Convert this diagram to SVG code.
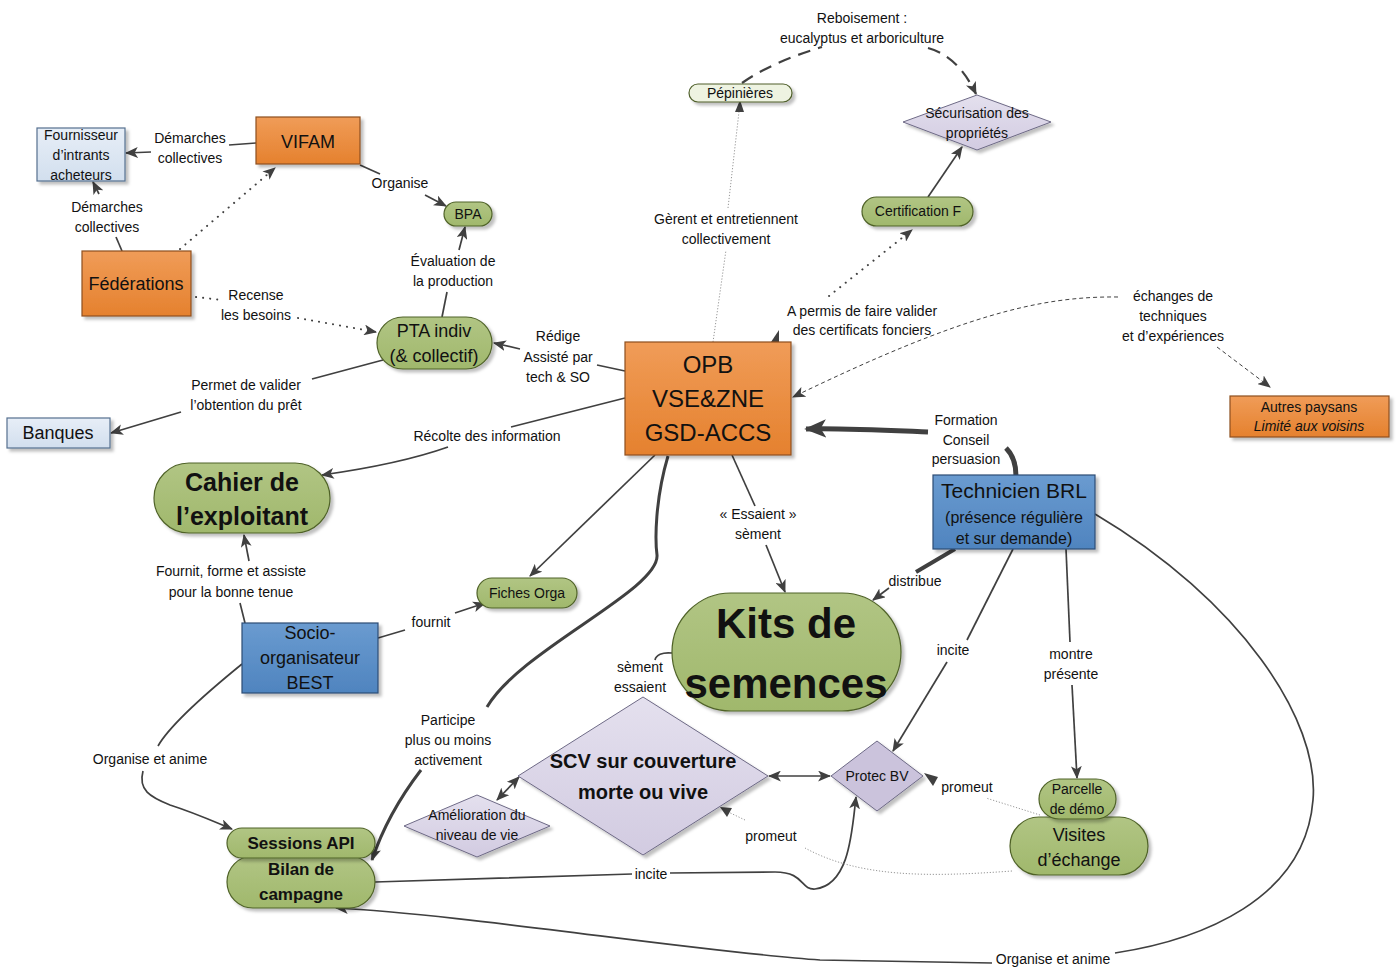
<svg xmlns="http://www.w3.org/2000/svg" width="1399" height="967" viewBox="0 0 1399 967">
<style>
text{font-family:"Liberation Sans",Arial,sans-serif;fill:#111;text-anchor:middle}
.l{font-size:14px}
.n{font-size:14px}
.b{font-weight:bold}
.org{fill:url(#gOrg);stroke:#8e4f20;stroke-width:1.2}
.grn{fill:url(#gGrn);stroke:#4f6228;stroke-width:1.2}
.lb{fill:url(#gLb);stroke:#55708f;stroke-width:1.2}
.blu{fill:url(#gBlu);stroke:#2c4d75;stroke-width:1.2}
.lav{fill:url(#gLav);stroke:#6e6a86;stroke-width:1}
.pep{fill:#eef3e1;stroke:#4f5f2a;stroke-width:1.2}
.sh{filter:url(#sh)}
.c{fill:none;stroke:#404040;stroke-width:1.7}
.dot{fill:none;stroke:#404040;stroke-width:2;stroke-dasharray:0.1 7;stroke-linecap:round}
.thin{fill:none;stroke:#8a8a8a;stroke-width:0.9;stroke-dasharray:1.2 1.8}
.dsh{fill:none;stroke:#404040;stroke-width:1;stroke-dasharray:4 3}
</style>
<defs>
<linearGradient id="gOrg" x1="0" y1="0" x2="0" y2="1"><stop offset="0" stop-color="#f09c58"/><stop offset="1" stop-color="#e5812e"/></linearGradient>
<linearGradient id="gGrn" x1="0" y1="0" x2="0" y2="1"><stop offset="0" stop-color="#b1c584"/><stop offset="1" stop-color="#a0b86c"/></linearGradient>
<linearGradient id="gLb" x1="0" y1="0" x2="0" y2="1"><stop offset="0" stop-color="#e7eef7"/><stop offset="1" stop-color="#d2dfee"/></linearGradient>
<linearGradient id="gBlu" x1="0" y1="0" x2="0" y2="1"><stop offset="0" stop-color="#6a9bd0"/><stop offset="1" stop-color="#4f84bf"/></linearGradient>
<linearGradient id="gLav" x1="0" y1="0" x2="0" y2="1"><stop offset="0" stop-color="#e4e0ee"/><stop offset="1" stop-color="#d2cbe1"/></linearGradient>
<filter id="sh" x="-10%" y="-10%" width="130%" height="140%"><feDropShadow dx="3" dy="3" stdDeviation="1.5" flood-color="#000" flood-opacity="0.25"/></filter>
<marker id="a" viewBox="0 0 12 10" refX="11" refY="5" markerWidth="13" markerHeight="11" markerUnits="userSpaceOnUse" orient="auto-start-reverse"><path d="M0,0 L12,5 L0,10 L3,5 z" fill="#404040"/></marker>
<marker id="A" viewBox="0 0 12 10" refX="11" refY="5" markerWidth="22" markerHeight="20" markerUnits="userSpaceOnUse" orient="auto"><path d="M0,0 L12,5 L0,10 L3,5 z" fill="#404040"/></marker>
</defs>

<g id="connectors">
<path class="c" d="M256 143 L229 145"/>
<path class="c" d="M151 152 L126 153" marker-end="url(#a)"/>
<path class="c" d="M122 251 L116 237"/>
<path class="c" d="M99 194 L93 182" marker-end="url(#a)"/>
<path class="dot" d="M180 249 L275 168" marker-end="url(#a)"/>
<path class="dot" d="M196 297 L222 300"/>
<path class="dot" d="M298 318 L376 332" marker-end="url(#a)"/>
<path class="c" d="M360 165 L380 174"/>
<path class="c" d="M425 195 L446 206" marker-end="url(#a)"/>
<path class="c" d="M442 317 L447 292"/>
<path class="c" d="M459 250 L465 227" marker-end="url(#a)"/>
<path class="c" d="M383 360 L312 379"/>
<path class="c" d="M181 412 L111 433" marker-end="url(#a)"/>
<path class="c" d="M625 371 L597 365"/>
<path class="c" d="M520 349 L494 343" marker-end="url(#a)"/>
<path class="c" d="M625 398 L511 427"/>
<path class="c" d="M448 447 Q400 464 322 475" marker-end="url(#a)"/>
<path class="thin" d="M713 342 L726 250"/>
<path class="thin" d="M728 208 L740 103"/>
<path d="M735 112 L740 100 L744 112 z" fill="#404040"/>
<path d="M771 342 L779 342 L779 330 z" fill="#404040"/>
<path class="dot" d="M829 296 L912 230" marker-end="url(#a)"/>
<path fill="none" stroke="#404040" stroke-width="2.2" stroke-dasharray="13 8" d="M742 83 Q772 62 822 47"/>
<path fill="none" stroke="#404040" stroke-width="2.2" stroke-dasharray="13 8" d="M928 48 Q958 56 976 94" marker-end="url(#a)"/>
<path class="c" d="M928 197 L962 147" marker-end="url(#a)"/>
<path class="dsh" d="M1118 297 C1040 296 960 316 793 397" marker-end="url(#a)"/>
<path class="dsh" d="M1217 347 L1270 387" marker-end="url(#a)"/>
<path fill="none" stroke="#404040" stroke-width="5" d="M1016 476 C1016 463 1013 455 1006 448"/>
<path fill="none" stroke="#404040" stroke-width="5" d="M928 432 C880 430 840 428 806 429" marker-end="url(#A)"/>
<path class="c" d="M655 455 L530 576" marker-end="url(#a)"/>
<path fill="none" stroke="#404040" stroke-width="3" d="M668 456 C655 500 655 540 657 555 C660 590 520 650 487 707"/>
<path fill="none" stroke="#404040" stroke-width="3" d="M421 770 C398 800 382 830 372 860" marker-end="url(#a)"/>
<path class="c" d="M732 455 L755 506"/>
<path class="c" d="M766 545 L785 592" marker-end="url(#a)"/>
<path fill="none" stroke="#404040" stroke-width="4" d="M955 549 L916 572"/>
<path class="c" d="M889 588 L873 600" marker-end="url(#a)"/>
<path class="c" d="M1013 549 L967 640"/>
<path class="c" d="M947 662 L893 751" marker-end="url(#a)"/>
<path class="c" d="M1066 549 L1070 642"/>
<path class="c" d="M1072 685 L1077 778" marker-end="url(#a)"/>
<path class="c" d="M1095 514 C1240 600 1320 720 1313 800 C1305 900 1200 940 1115 953"/>
<path class="c" d="M992 963 L820 960 C700 952 460 914 336 908" marker-end="url(#a)"/>
<path class="c" d="M375 882 C450 880 560 876 632 874"/>
<path class="c" d="M670 873 L775 872 C805 872 800 890 815 889 C850 885 852 830 856 797" marker-end="url(#a)"/>
<path class="c" d="M769 776 L830 776" marker-start="url(#a)" marker-end="url(#a)"/>
<path class="c" d="M519 777 L497 800" marker-start="url(#a)" marker-end="url(#a)"/>
<path class="c" d="M672 653 C662 652 656 655 655 660"/>
<path class="thin" d="M1012 871 C930 877 860 878 805 848"/>
<path class="thin" d="M745 820 L722 809"/>
<path d="M732 808 L720 807 L727 817 z" fill="#404040"/>
<path class="thin" d="M1040 815 L986 798"/>
<path d="M938 777 L924 773 L933 786 z" fill="#404040"/>
<path class="c" d="M245 623 L240 603"/>
<path class="c" d="M249 561 L244 535" marker-end="url(#a)"/>
<path class="c" d="M378 638 L405 630"/>
<path class="c" d="M455 613 L485 603" marker-end="url(#a)"/>
<path class="c" d="M242 664 C210 690 170 725 158 746"/>
<path class="c" d="M143 771 C138 790 150 797 170 805 C195 813 215 822 232 829" marker-end="url(#a)"/>
</g>

<g id="labels">
<text class="l" x="190" y="143">Démarches</text><text class="l" x="190" y="163">collectives</text>
<text class="l" x="107" y="212">Démarches</text><text class="l" x="107" y="232">collectives</text>
<text class="l" x="256" y="300">Recense</text><text class="l" x="256" y="320">les besoins</text>
<text class="l" x="400" y="188">Organise</text>
<text class="l" x="453" y="266">Évaluation de</text><text class="l" x="453" y="286">la production</text>
<text class="l" x="246" y="390">Permet de valider</text><text class="l" x="246" y="410">l’obtention du prêt</text>
<text class="l" x="558" y="341">Rédige</text><text class="l" x="558" y="362">Assisté par</text><text class="l" x="558" y="382">tech &amp; SO</text>
<text class="l" x="487" y="441">Récolte des information</text>
<text class="l" x="726" y="224">Gèrent et entretiennent</text><text class="l" x="726" y="244">collectivement</text>
<text class="l" x="862" y="316">A permis de faire valider</text><text class="l" x="862" y="335">des certificats fonciers</text>
<text class="l" x="862" y="23">Reboisement :</text><text class="l" x="862" y="43">eucalyptus et arboriculture</text>
<text class="l" x="1173" y="301">échanges de</text><text class="l" x="1173" y="321">techniques</text><text class="l" x="1173" y="341">et d’expériences</text>
<text class="l" x="966" y="425">Formation</text><text class="l" x="966" y="445">Conseil</text><text class="l" x="966" y="464">persuasion</text>
<text class="l" x="758" y="519">« Essaient »</text><text class="l" x="758" y="539">sèment</text>
<text class="l" x="915" y="586">distribue</text>
<text class="l" x="953" y="655">incite</text>
<text class="l" x="1071" y="659">montre</text><text class="l" x="1071" y="679">présente</text>
<text class="l" x="640" y="672">sèment</text><text class="l" x="640" y="692">essaient</text>
<text class="l" x="448" y="725">Participe</text><text class="l" x="448" y="745">plus ou moins</text><text class="l" x="448" y="765">activement</text>
<text class="l" x="231" y="576">Fournit, forme et assiste</text><text class="l" x="231" y="597">pour la bonne tenue</text>
<text class="l" x="431" y="627">fournit</text>
<text class="l" x="150" y="764">Organise et anime</text>
<text class="l" x="771" y="841">promeut</text>
<text class="l" x="967" y="792">promeut</text>
<text class="l" x="651" y="879">incite</text>
<text class="l" x="1053" y="964">Organise et anime</text>
</g>

<g id="n-fournisseur"><rect class="lb sh" x="37" y="128" width="88" height="53"/><text class="n" x="81" y="140">Fournisseur</text><text class="n" x="81" y="160">d’intrants</text><text class="n" x="81" y="180">acheteurs</text></g>
<g id="n-vifam"><rect class="org sh" x="256" y="117" width="104" height="47"/><text x="308" y="148" font-size="18">VIFAM</text></g>
<g id="n-federations"><rect class="org sh" x="82" y="251" width="109" height="65"/><text x="136" y="290" font-size="18">Fédérations</text></g>
<g id="n-bpa"><rect class="grn sh" x="444" y="202" width="48" height="24" rx="12"/><text class="n" x="468" y="219" font-size="13">BPA</text></g>
<g id="n-pta"><rect class="grn sh" x="377" y="317" width="115" height="52" rx="26"/><text x="434" y="337" font-size="18">PTA indiv</text><text x="434" y="362" font-size="18">(&amp; collectif)</text></g>
<g id="n-banques"><rect class="lb sh" x="7" y="418" width="103" height="30"/><text x="58" y="439" font-size="18">Banques</text></g>
<g id="n-pepinieres"><rect class="pep sh" x="689" y="84" width="103" height="18" rx="9"/><text class="n" x="740" y="98">Pépinières</text></g>
<g id="n-securisation"><polygon class="lav sh" points="903,122 977,95 1051,122 977,150"/><text class="n" x="977" y="118">Sécurisation des</text><text class="n" x="977" y="138">propriétés</text></g>
<g id="n-certification"><rect class="grn sh" x="862" y="197" width="111" height="29" rx="14.5"/><text class="n" x="918" y="216">Certification F</text></g>
<g id="n-opb"><rect class="org sh" x="625" y="342" width="166" height="113"/><text x="708" y="373" font-size="24">OPB</text><text x="708" y="407" font-size="24">VSE&amp;ZNE</text><text x="708" y="441" font-size="24">GSD-ACCS</text></g>
<g id="n-autres"><rect class="org sh" x="1230" y="396" width="159" height="41"/><text class="n" x="1309" y="412">Autres paysans</text><text class="n" x="1309" y="431" font-style="italic">Limité aux voisins</text></g>
<g id="n-technicien"><rect class="blu sh" x="933" y="475" width="162" height="74"/><text x="1014" y="498" font-size="21">Technicien BRL</text><text x="1014" y="523" font-size="16">(présence régulière</text><text x="1014" y="544" font-size="16">et sur demande)</text></g>
<g id="n-cahier"><rect class="grn sh" x="154" y="463" width="176" height="70" rx="35"/><text class="b" x="242" y="491" font-size="25">Cahier de</text><text class="b" x="242" y="525" font-size="25">l’exploitant</text></g>
<g id="n-fiches"><rect class="grn sh" x="477" y="578" width="100" height="30" rx="15"/><text class="n" x="527" y="598">Fiches Orga</text></g>
<g id="n-kits"><rect class="grn sh" x="672" y="593" width="229" height="118" rx="59"/><text class="b" x="786" y="638" font-size="42">Kits de</text><text class="b" x="786" y="698" font-size="42">semences</text></g>
<g id="n-socio"><rect class="blu sh" x="242" y="623" width="136" height="70"/><text x="310" y="639" font-size="18">Socio-</text><text x="310" y="664" font-size="18">organisateur</text><text x="310" y="689" font-size="18">BEST</text></g>
<g id="n-scv"><polygon class="lav sh" points="518,776 643,697 768,776 643,855"/><text class="b" x="643" y="768" font-size="20">SCV sur couverture</text><text class="b" x="643" y="799" font-size="20">morte ou vive</text></g>
<g id="n-amelioration"><polygon class="lav sh" points="404,826 477,795 550,826 477,857"/><text class="n" x="477" y="820">Amélioration du</text><text class="n" x="477" y="840">niveau de vie</text></g>
<g id="n-protec"><polygon class="lav sh" points="831,776 877,741 923,776 877,811" style="fill:#cbc3dc"/><text class="n" x="877" y="781">Protec BV</text></g>
<g id="n-visites"><rect class="grn sh" x="1010" y="817" width="138" height="58" rx="29"/><text x="1079" y="841" font-size="18">Visites</text><text x="1079" y="866" font-size="18">d’échange</text></g>
<g id="n-parcelle"><rect class="grn sh" x="1039" y="779" width="77" height="40" rx="20"/><text class="n" x="1077" y="794">Parcelle</text><text class="n" x="1077" y="814">de démo</text></g>
<g id="n-bilan"><rect class="grn sh" x="227" y="856" width="148" height="52" rx="26"/><text class="b" x="301" y="875" font-size="17">Bilan de</text><text class="b" x="301" y="900" font-size="17">campagne</text></g>
<g id="n-sessions"><rect class="grn sh" x="227" y="828" width="148" height="30" rx="15"/><text class="b" x="301" y="849" font-size="17">Sessions API</text></g>
</svg>
